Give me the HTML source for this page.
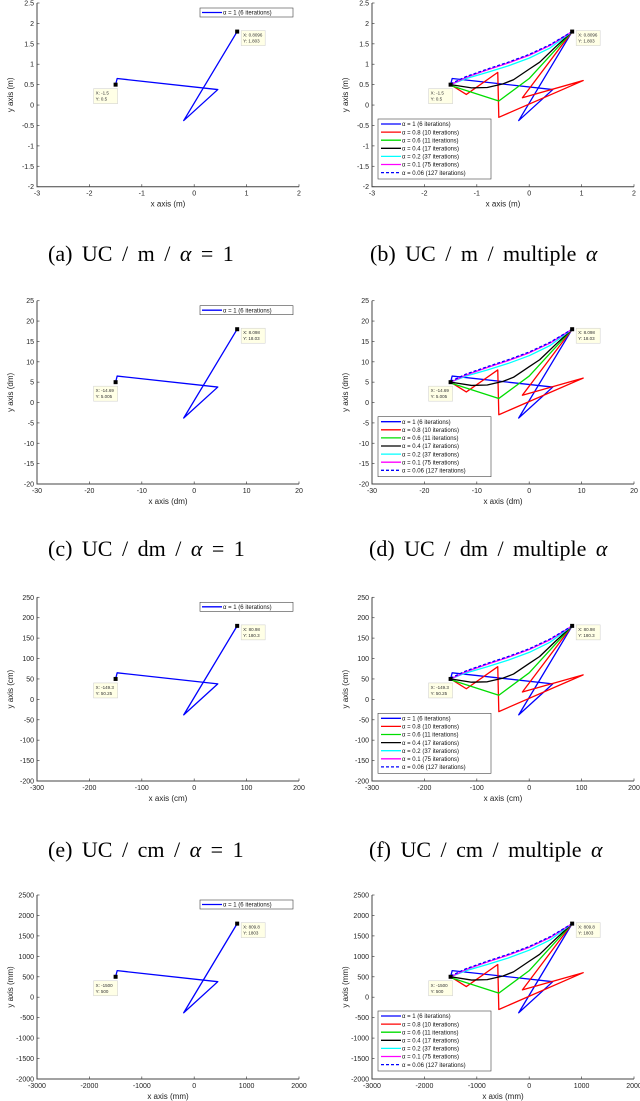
<!DOCTYPE html>
<html><head><meta charset="utf-8">
<style>
html,body{margin:0;padding:0;background:#fff;}
body{width:640px;height:1101px;overflow:hidden;position:relative;}
svg{position:absolute;left:0;top:0;}
.cap{position:absolute;font-family:"Liberation Serif",serif;font-size:22px;word-spacing:4px;color:#000;white-space:nowrap;}
</style></head>
<body>
<svg id="fig" width="640" height="1101" viewBox="0 0 640 1101"></svg>
<div class="cap" style="left:48px;top:241px">(a) UC / m / <i>α</i> = 1</div>
<div class="cap" style="left:370px;top:241px">(b) UC / m / multiple <i>α</i></div>
<div class="cap" style="left:48px;top:536px">(c) UC / dm / <i>α</i> = 1</div>
<div class="cap" style="left:369px;top:536px">(d) UC / dm / multiple <i>α</i></div>
<div class="cap" style="left:48px;top:837px">(e) UC / cm / <i>α</i> = 1</div>
<div class="cap" style="left:369px;top:837px">(f) UC / cm / multiple <i>α</i></div>
<script>
// ---- data (in metres) ----
const seriesNames = ["α = 1 (6 iterations)","α = 0.8 (10 iterations)","α = 0.6 (11 iterations)","α = 0.4 (17 iterations)","α = 0.2 (37 iterations)","α = 0.1 (75 iterations)","α = 0.06 (127 iterations)"];
const seriesColors = ["#0000ff","#ff0000","#00dd00","#000000","#00ffff","#ff00ff","#0000ff"];
const s1x = [-1.5,-1.47,0.45,-0.2,0.82];
const s1y = [0.5,0.65,0.38,-0.38,1.8];
const s08x = [-1.5,-1.2,-0.6,-0.58,1.03,-0.13,0.82];
const s08y = [0.5,0.26,0.8,-0.3,0.6,0.18,1.8];
const s06x = [-1.5,-0.58,0.0,0.82];
const s06y = [0.48,0.1,0.65,1.8];
const s04x = [-1.5,-1.1,-0.8,-0.5,-0.3,0.0,0.2,0.5,0.82];
const s04y = [0.5,0.42,0.43,0.52,0.62,0.88,1.05,1.42,1.8];
const s02x = [-1.5,-1.2,-0.8,-0.4,0.0,0.4,0.82];
const s02y = [0.5,0.65,0.8,0.96,1.15,1.4,1.8];
const s01x = [-1.5,-1.2,-0.8,-0.4,0.0,0.4,0.82];
const s01y = [0.5,0.68,0.86,1.03,1.22,1.46,1.8];
const s006x = [-1.5,-1.2,-0.8,-0.4,0.0,0.4,0.82];
const s006y = [0.52,0.7,0.88,1.05,1.24,1.48,1.8];
const unitNames = ["m","dm","cm","mm"];
const unitScale = [1,10,100,1000];
const xTicks = [-3,-2,-1,0,1,2];
const yTicks = [2.5,2,1.5,1,0.5,0,-0.5,-1,-1.5,-2];
const yTicksCm = [250,200,150,100,50,0,-50,-100,-150,-200];
const tipStartX = ["-1.5","-14.69","-149.3","-1500"];
const tipStartY = ["0.5","5.005","50.25","500"];
const tipEndX = ["0.8096","8.098","80.98","809.8"];
const tipEndY = ["1.803","18.03","180.3","1803"];

const NS="http://www.w3.org/2000/svg";
const fig=document.getElementById('fig');
function mk(tag,attrs,parent){const e=document.createElementNS(NS,tag);for(const k in attrs)e.setAttribute(k,attrs[k]);(parent||fig).appendChild(e);return e;}
const rowTop=[3,300.7,597.3,895];
const rowBot=[186.7,484,781,1079];
const colLeft=[37,372];
const colRight=[299,634];
const allX=[s1x,s08x,s06x,s04x,s02x,s01x,s006x];
const allY=[s1y,s08y,s06y,s04y,s02y,s01y,s006y];

for(let r=0;r<4;r++){
  for(let c=0;c<2;c++){
    const sc=unitScale[r];
    const g=mk('g',{});
    
    
    const L=colLeft[c],R=colRight[c],T=rowTop[r],B=rowBot[r];
    const xmin=-3,xmax=2,ymin=-2,ymax=2.5;
    const xs=v=>L+(v/sc-xmin)/(xmax-xmin)*(R-L);
    const ys=v=>B-(v/sc-ymin)/(ymax-ymin)*(B-T);
    const ax=mk('path',{d:`M${L},${T}V${B}H${R}`,stroke:'#444',fill:'none','stroke-width':1},g);
    
    
    xTicks.forEach(t=>{const v=t*sc,x=xs(v);
      mk('line',{x1:x,x2:x,y1:B,y2:B-2.5,stroke:'#444','stroke-width':0.7},g);
      const tx=mk('text',{x:x,y:B+9,'font-size':7,'font-family':'Liberation Sans, sans-serif','text-anchor':'middle',fill:'#222'},g);
      tx.textContent=String(v);
      
      });
    const yt=(r===2)?yTicksCm:yTicks.map(t=>t*sc);
    yt.forEach(v=>{const y=(r===2)?B-(v+200)/450*(B-T):ys(v);
      mk('line',{x1:L,x2:L+2.5,y1:y,y2:y,stroke:'#444','stroke-width':0.7},g);
      const tx=mk('text',{x:L-3,y:y+2.5,'font-size':7,'font-family':'Liberation Sans, sans-serif','text-anchor':'end',fill:'#222'},g);
      tx.textContent=String(v);
      
      });
    const xl=mk('text',{x:(L+R)/2,y:B+20,'font-size':8,'font-family':'Liberation Sans, sans-serif','text-anchor':'middle',fill:'#222'},g);
    xl.textContent='x axis ('+unitNames[r]+')';
    
    
    const yx=L-24,ym=(T+B)/2;
    const yl=mk('text',{x:yx,y:ym,'font-size':8,'font-family':'Liberation Sans, sans-serif','text-anchor':'middle',fill:'#222',transform:`rotate(-90 ${yx} ${ym})`},g);
    yl.textContent='y axis ('+unitNames[r]+')';
    
    
    const nS=c?7:1;
    for(let s=0;s<nS;s++){
      const pts=allX[s].map((xv,i)=>xs(xv*sc)+','+ys(allY[s][i]*sc)).join(' ');
      const pl=mk('polyline',{points:pts,fill:'none',stroke:seriesColors[s],'stroke-width':1.3,'stroke-linejoin':'round'},g);
      if(s===6)pl.setAttribute('stroke-dasharray','3,2');
      
      
    }
    const mx1=xs(-1.5*sc),my1=ys(0.5*sc),mx2=xs(0.82*sc),my2=ys(1.8*sc);
    [[mx1,my1],[mx2,my2]].forEach(p=>{const m=mk('rect',{x:p[0]-2,y:p[1]-2,width:4,height:4,fill:'#000'},g);
      
      });
    const tips=[[mx1-22,my1+4,tipStartX[r],tipStartY[r]],[mx2+4,my2-1,tipEndX[r],tipEndY[r]]];
    tips.forEach(t=>{const tg=mk('g',{},g);
      
      
      mk('rect',{x:t[0],y:t[1],width:24,height:15,fill:'#ffffe6',stroke:'#ccc','stroke-width':0.5},tg);
      const a=mk('text',{x:t[0]+2,y:t[1]+6,'font-size':4.5,'font-family':'Liberation Sans, sans-serif',fill:'#333'},tg);a.textContent='X: '+t[2];
      const b=mk('text',{x:t[0]+2,y:t[1]+12,'font-size':4.5,'font-family':'Liberation Sans, sans-serif',fill:'#333'},tg);b.textContent='Y: '+t[3];});
    const lg=mk('g',{},g);
    
    
    if(!c){
      const lx=L+163,ly=T+5;
      mk('rect',{x:lx,y:ly,width:93,height:9,fill:'#fff',stroke:'#444','stroke-width':0.6},lg);
      mk('line',{x1:lx+2,x2:lx+22,y1:ly+4.5,y2:ly+4.5,stroke:seriesColors[0],'stroke-width':1.3},lg);
      const t=mk('text',{x:lx+23,y:ly+6.7,'font-size':6,'font-family':'Liberation Sans, sans-serif',fill:'#111'},lg);
      t.textContent=seriesNames[0];
      
      
    } else {
      const lx=L+6,ly=T+116;
      mk('rect',{x:lx,y:ly,width:113,height:60,fill:'#fff',stroke:'#444','stroke-width':0.6},lg);
      for(let s=0;s<7;s++){const yy=ly+5+s*8.1;
        const ln=mk('line',{x1:lx+3,x2:lx+23,y1:yy,y2:yy,stroke:seriesColors[s],'stroke-width':1.3},lg);
        if(s===6)ln.setAttribute('stroke-dasharray','3,2');
        const t=mk('text',{x:lx+24,y:yy+2.2,'font-size':6,'font-family':'Liberation Sans, sans-serif',fill:'#111'},lg);
        t.textContent=seriesNames[s];
        
        }
    }
  }
}
</script>
</body></html>
